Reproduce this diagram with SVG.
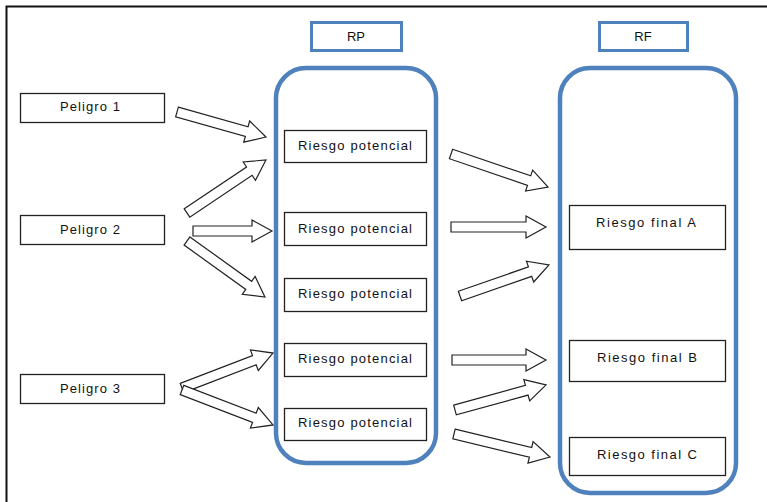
<svg xmlns="http://www.w3.org/2000/svg" width="767" height="502" viewBox="0 0 767 502">
<style>
text{font-family:"Liberation Sans",Arial,sans-serif;font-size:13px;fill:#111;text-anchor:middle}
.box{fill:#fff;stroke:#222;stroke-width:1.3}
.hdr{fill:#fff;stroke:#4F81BD;stroke-width:3}
.cont{fill:none;stroke:#4F81BD;stroke-width:4.5}
.arr{fill:#fff;stroke:#222;stroke-width:1.2;stroke-linejoin:miter}
</style>
<rect x="6.5" y="6.5" width="800" height="600" fill="#fff" stroke="#111" stroke-width="2"/>
<g id="hdrRP"><rect class="hdr" x="311.5" y="22.5" width="90" height="28"/><text x="356" y="41">RP</text></g>
<g id="hdrRF"><rect class="hdr" x="599.5" y="22.5" width="88" height="28"/><text x="643" y="41">RF</text></g>
<g id="contRP"><rect class="cont" x="276" y="68" width="160" height="395" rx="30"/></g>
<g id="contRF"><rect class="cont" x="560" y="68" width="176" height="425" rx="30"/></g>
<g id="p1"><rect class="box" x="20.5" y="93.5" width="144" height="29"/><text x="90" y="111" textLength="60" lengthAdjust="spacing">Peligro 1</text></g>
<g id="p2"><rect class="box" x="20.5" y="215.5" width="144" height="29"/><text x="90" y="234" textLength="60" lengthAdjust="spacing">Peligro 2</text></g>
<g id="p3"><rect class="box" x="20.5" y="374.5" width="144" height="29"/><text x="90" y="393" textLength="60" lengthAdjust="spacing">Peligro 3</text></g>
<g id="rp1"><rect class="box" x="284.5" y="130.5" width="142" height="32"/><text x="355" y="150" textLength="114" lengthAdjust="spacing">Riesgo potencial</text></g>
<g id="rp2"><rect class="box" x="284.5" y="212.5" width="142" height="33"/><text x="355" y="233" textLength="114" lengthAdjust="spacing">Riesgo potencial</text></g>
<g id="rp3"><rect class="box" x="284.5" y="278.5" width="142" height="33"/><text x="355" y="298" textLength="114" lengthAdjust="spacing">Riesgo potencial</text></g>
<g id="rp4"><rect class="box" x="284.5" y="343.5" width="142" height="33"/><text x="355" y="363" textLength="114" lengthAdjust="spacing">Riesgo potencial</text></g>
<g id="rp5"><rect class="box" x="284.5" y="408.5" width="142" height="32"/><text x="355" y="427" textLength="114" lengthAdjust="spacing">Riesgo potencial</text></g>
<g id="rfA"><rect class="box" x="569.5" y="205.5" width="156" height="44"/><text x="646" y="227" textLength="100" lengthAdjust="spacing">Riesgo final A</text></g>
<g id="rfB"><rect class="box" x="569.5" y="340.5" width="156" height="41"/><text x="647" y="362" textLength="100" lengthAdjust="spacing">Riesgo final B</text></g>
<g id="rfC"><rect class="box" x="569.5" y="437.5" width="156" height="38"/><text x="647" y="459" textLength="100" lengthAdjust="spacing">Riesgo final C</text></g>
<g id="connectors">
<path class="arr" transform="translate(177,112) rotate(15.7)" d="M0,-5 H72.4 V-11 L92.4,0 L72.4,11 V5 H0 Z"/>
<path class="arr" transform="translate(187,213) rotate(-33.9)" d="M0,-5 H75.1 V-11 L95.1,0 L75.1,11 V5 H0 Z"/>
<path class="arr" transform="translate(193,231)" d="M0,-5 H59 V-11 L79,0 L59,11 V5 H0 Z"/>
<path class="arr" transform="translate(187,241) rotate(35.7)" d="M0,-5 H76 V-11 L96,0 L76,11 V5 H0 Z"/>
<path class="arr" transform="translate(182,388) rotate(-21)" d="M0,-5 H77.5 V-11 L97.5,0 L77.5,11 V5 H0 Z"/>
<path class="arr" transform="translate(182,390) rotate(21)" d="M0,-5 H77.5 V-11 L97.5,0 L77.5,11 V5 H0 Z"/>
<path class="arr" transform="translate(451,154) rotate(18.8)" d="M0,-5 H82.5 V-11 L102.5,0 L82.5,11 V5 H0 Z"/>
<path class="arr" transform="translate(451,227)" d="M0,-5 H75 V-11 L95,0 L75,11 V5 H0 Z"/>
<path class="arr" transform="translate(460,296) rotate(-19.2)" d="M0,-5 H74.2 V-11 L94.2,0 L74.2,11 V5 H0 Z"/>
<path class="arr" transform="translate(452,360)" d="M0,-5 H74 V-11 L94,0 L74,11 V5 H0 Z"/>
<path class="arr" transform="translate(455,410) rotate(-15.4)" d="M0,-5 H74.4 V-11 L94.4,0 L74.4,11 V5 H0 Z"/>
<path class="arr" transform="translate(454,434) rotate(13.5)" d="M0,-5 H78.7 V-11 L98.7,0 L78.7,11 V5 H0 Z"/>
</g>
</svg>
